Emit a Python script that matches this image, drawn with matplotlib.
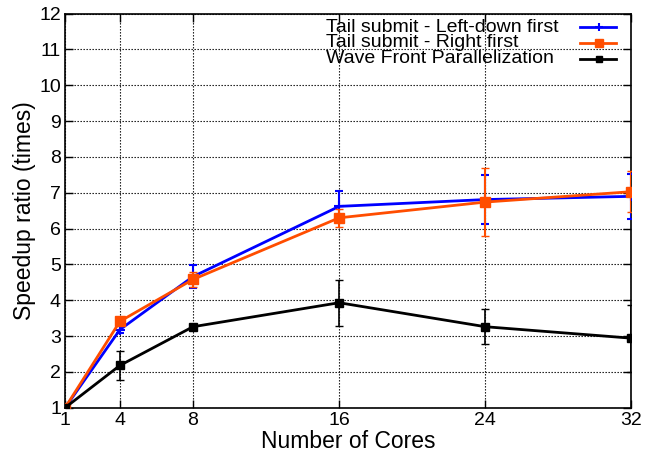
import matplotlib
matplotlib.use('Agg')
import matplotlib.pyplot as plt
from matplotlib.lines import Line2D

plt.rcParams['font.family'] = ['Liberation Sans', 'DejaVu Sans']

cores = [1, 4, 8, 16, 24, 32]

leftDownMean = [1.0, 3.18, 4.66, 6.62, 6.81, 6.9]
leftDownErr = [0.0, 0.1, 0.31, 0.42, 0.69, 0.62]

rightFirstMean = [1.0, 3.41, 4.58, 6.3, 6.74, 7.03]
rightFirstErr = [0.0, 0.05, 0.22, 0.25, 0.96, 0.58]

waveFrontMean = [1.0, 2.18, 3.26, 3.93, 3.26, 2.94]
waveFrontErr = [0.0, 0.4, 0.02, 0.64, 0.49, 0.94]

seriesNames = ['Tail submit - Left-down first',
               'Tail submit - Right first',
               'Wave Front Parallelization']

xTicks = [1, 4, 8, 16, 24, 32]
yTicks = list(range(1, 13))

blue = '#0000ff'
orange = '#ff4d00'

fig = plt.figure(figsize=(6.45, 4.55), dpi=100)
ax = fig.add_axes([0.101, 0.104, 0.878, 0.866])

styles = [
    dict(color=blue, marker='+', markersize=7, mew=1.5, elinewidth=1.5, capthick=1.5),
    dict(color=orange, marker='s', markersize=7, mew=1, elinewidth=1.5, capthick=1.5),
    dict(color='black', marker='s', markersize=5.5, mew=1, elinewidth=1.2, capthick=1.2),
]
means = [leftDownMean, rightFirstMean, waveFrontMean]
errs = [leftDownErr, rightFirstErr, waveFrontErr]

for i, (m, e, st) in enumerate(zip(means, errs, styles)):
    ax.errorbar(cores, m, yerr=e, lw=2, capsize=3, zorder=3 + i, **st)

ax.set_xlim(1, 32)
ax.set_ylim(1, 12)
ax.set_xticks(xTicks)
ax.set_yticks(yTicks)
ax.tick_params(direction='in', top=True, right=True, length=6, width=1,
               labelsize=14, pad=3)
ax.grid(True, color='black', linestyle=(0, (1.2, 1.5)), linewidth=0.8)
ax.set_axisbelow(True)
for sp in ax.spines.values():
    sp.set_linewidth(1.2)

ax.set_xlabel('Number of Cores', fontsize=16.5, labelpad=0.5)
ax.set_ylabel('Speedup ratio (times)', fontsize=16.5, labelpad=2)

# key in the top right corner: left-aligned text, sample line on the right
rowY = [0.966, 0.926, 0.886]
for name, st, y in zip(seriesNames, styles, rowY):
    ax.text(0.461, y, name, transform=ax.transAxes, fontsize=14,
            ha='left', va='center', zorder=10)
    ax.add_line(Line2D([0.91, 0.9735], [y, y], transform=ax.transAxes,
                       color=st['color'], lw=2, zorder=10))
    ax.add_line(Line2D([0.942], [y], transform=ax.transAxes, color=st['color'],
                       marker=st['marker'], markersize=st['markersize'] - 1,
                       mew=st['mew'], zorder=10))

fig.savefig('out.png', dpi=100)
